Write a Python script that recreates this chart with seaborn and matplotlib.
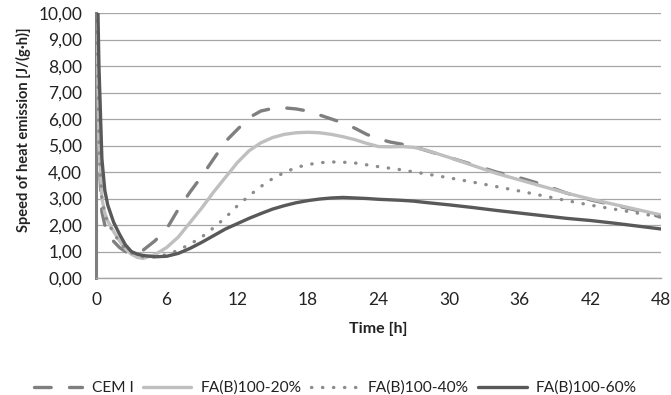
import numpy as np
import pandas as pd
import matplotlib
matplotlib.use('Agg')
import matplotlib.pyplot as plt
from matplotlib.ticker import FuncFormatter
import seaborn as sns

# Time axis [h]
time_h = [0, 0.25, 0.5, 0.75, 1, 1.5, 2, 2.5, 3, 3.5, 4, 5, 6, 7, 8, 9, 10, 11, 12,
          13, 14, 15, 16, 17, 18, 19, 20, 21, 22, 23, 24, 25, 26, 27, 28, 30, 32,
          34, 36, 38, 40, 42, 44, 46, 48]

# Speed of heat emission [J/(g*h)]
cem_i = [14.0, 4.5, 2.5, 2.0, 1.7, 1.38, 1.15, 1.0, 0.92, 0.95, 1.05, 1.4, 1.85, 2.6,
         3.25, 3.85, 4.5, 5.15, 5.6, 6.05, 6.3, 6.4, 6.42, 6.38, 6.3, 6.15, 6.0, 5.85,
         5.65, 5.42, 5.25, 5.13, 5.05, 4.95, 4.82, 4.55, 4.28, 4.0, 3.78, 3.52, 3.2,
         2.95, 2.75, 2.55, 2.3]
fa_20 = [12.0, 5.0, 3.0, 2.45, 2.15, 1.75, 1.4, 1.1, 0.9, 0.78, 0.74, 0.88, 1.15, 1.55,
         2.1, 2.65, 3.25, 3.8, 4.35, 4.8, 5.1, 5.3, 5.42, 5.48, 5.5, 5.48, 5.42, 5.33,
         5.22, 5.08, 4.96, 4.95, 4.96, 4.93, 4.83, 4.55, 4.25, 3.95, 3.7, 3.45, 3.2,
         2.98, 2.78, 2.58, 2.38]
fa_40 = [13.0, 4.8, 3.0, 2.4, 2.1, 1.7, 1.35, 1.1, 0.95, 0.86, 0.8, 0.8, 0.88, 1.05,
         1.28, 1.55, 1.9, 2.28, 2.72, 3.1, 3.45, 3.75, 3.98, 4.17, 4.28, 4.35, 4.38,
         4.37, 4.34, 4.27, 4.2, 4.14, 4.08, 4.0, 3.93, 3.78, 3.62, 3.45, 3.28, 3.1,
         2.92, 2.75, 2.6, 2.45, 2.3]
fa_60 = [14.0, 8.0, 4.5, 3.3, 2.75, 2.1, 1.65, 1.25, 1.0, 0.9, 0.85, 0.8, 0.82, 0.93,
         1.12, 1.35, 1.6, 1.85, 2.05, 2.25, 2.43, 2.6, 2.73, 2.84, 2.92, 2.98, 3.02,
         3.04, 3.02, 3.0, 2.97, 2.95, 2.93, 2.9, 2.85, 2.76, 2.66, 2.55, 2.45, 2.35,
         2.25, 2.17, 2.07, 1.96, 1.85]

series_names = ['CEM I', 'FA(B)100-20%', 'FA(B)100-40%', 'FA(B)100-60%']
series_vals = [cem_i, fa_20, fa_40, fa_60]
colors = ['#7f7f7f', '#bfbfbf', '#8c8c8c', '#595959']
styles = [(0, (5, 5.5)), '-', (0, (0.1, 3.2)), '-']

sns.set_style('white')
plt.rcParams['font.family'] = ['Lato', 'DejaVu Sans']

fig = plt.figure(figsize=(6.71, 3.95), dpi=100)
ax = fig.add_axes([96 / 671, 1 - 278 / 395, 565 / 671, 265 / 395])

for name, vals, c, ls in zip(series_names, series_vals, colors, styles):
    df = pd.DataFrame({'t': time_h, 'v': vals})
    sns.lineplot(data=df, x='t', y='v', ax=ax, color=c, linewidth=2.4,
                 linestyle=ls, label=name, dash_capstyle='round', zorder=3)

ax.set_xlim(0, 48)
ax.set_ylim(0, 10)
ax.set_xticks(np.arange(0, 49, 6))
ax.set_yticks(np.arange(0, 10.01, 1))
ax.yaxis.set_major_formatter(FuncFormatter(lambda v, p: f'{v:.2f}'.replace('.', ',')))

ax.grid(axis='y', color='#a6a6a6', linewidth=0.9)
ax.grid(axis='x', visible=False)
for s in ['top', 'right']:
    ax.spines[s].set_visible(False)
ax.spines['left'].set_color('#7f7f7f')
ax.spines['left'].set_linewidth(2.2)
ax.spines['bottom'].set_color('#a6a6a6')
ax.spines['bottom'].set_linewidth(1)
ax.tick_params(axis='both', direction='out', length=5, width=0.9, color='#a6a6a6',
               labelsize=12.5, labelcolor='#222222', pad=5)

ax.set_xlabel('Time [h]', fontsize=11.5, fontweight='bold', color='#222222', labelpad=10)
ax.set_ylabel('Speed of heat emission [J/(g·h)]', fontsize=10.5, fontweight='bold',
              color='#222222')
ax.yaxis.set_label_coords(-0.115, 0.56)

handles, labels = ax.get_legend_handles_labels()
ax.legend_.remove()
fig.legend(handles, labels, loc='center', bbox_to_anchor=(0.5, 1 - 388 / 395), ncol=4,
           frameon=False, fontsize=11.2, handlelength=3.1, handletextpad=0.6,
           columnspacing=0.6, labelcolor='#222222')

fig.savefig('out.png', dpi=100)
